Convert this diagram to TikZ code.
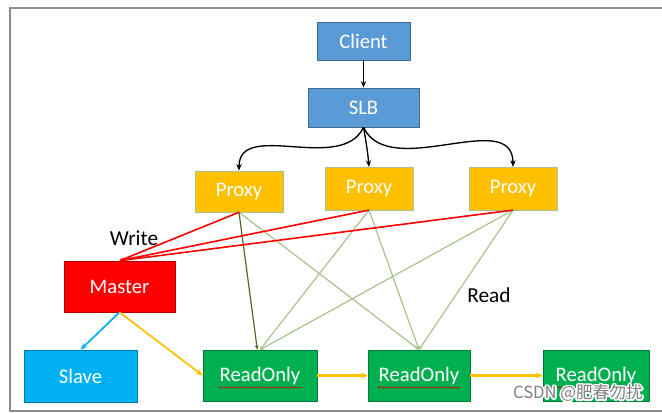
\documentclass[tikz,border=0pt]{standalone}
\usepackage{fontspec}
\setmainfont{Carlito}
\newfontfamily\cjk{Noto Sans CJK SC}
\usepackage{contour}
\contourlength{1.2pt}
\usetikzlibrary{arrows.meta,decorations.pathmorphing}
\definecolor{boxblue}{HTML}{5B9BD5}
\definecolor{proxyyel}{HTML}{FFC000}
\definecolor{slaveblue}{HTML}{00B0F0}
\definecolor{rogreen}{HTML}{00B050}
\definecolor{readgreen}{HTML}{A9C38C}
\definecolor{readdark}{HTML}{4E6B2E}
\tikzset{
	box/.style={
			draw=#1!70!black, fill=#1, text=white, inner sep=0pt,
			font=\fontsize{15.5pt}{17pt}\selectfont, line width=0.4pt
		},
	tip/.style={-{Stealth[length=5pt,width=4pt]}},
	writeline/.style={red, line width=1.2pt, -{Stealth[length=2.5pt,width=2.5pt]}},
	readline/.style={readgreen, line width=0.9pt, -{Stealth[length=3pt,width=3pt]}},
	feed/.style={proxyyel, line width=1.6pt, -{Stealth[length=5pt,width=4.5pt]}},
	spell/.style={red!80!black, line width=0.4pt, decorate,
			decoration={snake, amplitude=0.5pt, segment length=2.2pt}}
}

\begin{document}
\begin{tikzpicture}[x=0.75pt,y=-0.75pt]
	\useasboundingbox (0,0) rectangle (662,413);
	\draw[black!45, line width=1pt] (10,8) rectangle (700,411);

	\node[box=boxblue, minimum width=69.75pt, minimum height=28.5pt] (client) at (363.5,41) {Client};
	\node[box=boxblue, minimum width=83.25pt, minimum height=29.25pt] (slb) at (363.5,107.5) {SLB};
	\node[box=proxyyel, draw=readgreen, minimum width=66pt, minimum height=30.75pt] (p1) at (239,191.5) {Proxy};
	\node[box=proxyyel, draw=readgreen, minimum width=66pt, minimum height=32pt] (p2) at (369,188.5) {Proxy};
	\node[box=proxyyel, draw=readgreen, minimum width=66pt, minimum height=32pt] (p3) at (513,188.5) {Proxy};
	\node[box=red, minimum width=83.25pt, minimum height=38.25pt] (master) at (119.5,286.5) {Master};
	\node[box=slaveblue, minimum width=84.75pt, minimum height=39pt] (slave) at (80.5,376) {Slave};
	\node[box=rogreen, minimum width=85.5pt, minimum height=38.25pt] (ro1) at (260,375.5) {ReadOnly};
	\node[box=rogreen, minimum width=76.5pt, minimum height=38.25pt] (ro2) at (419,375.5) {ReadOnly};
	\node[box=rogreen, minimum width=79.5pt, minimum height=38.25pt] (ro3) at (596,375.5) {ReadOnly};

	\node[font=\fontsize{16pt}{18pt}\selectfont] (write) at (134,238) {Write};
	\node[font=\fontsize{16pt}{18pt}\selectfont] (read) at (489,295) {Read};

	% spell check marks
	\foreach \n in {ro1,ro2,ro3}
	\draw[spell] ([xshift=-31pt,yshift=-9pt]\n.center) -- ([xshift=31pt,yshift=-9pt]\n.center);

	\draw[tip, line width=1pt] (client) -- (slb);
	\draw[tip, line width=1pt] (slb.south) to[out=-115,in=90] (p1.north);
	\draw[tip, line width=1pt] (slb.south) to[out=-80,in=95] (p2.north);
	\draw[tip, line width=1pt] (slb.south) to[out=-65,in=90] (p3.north);

	\foreach \p in {p2,p3}
	\foreach \r in {ro1,ro2}
	\draw[readline] (\p.south) -- (\r.north);
	\draw[readline] (p1.south) -- (ro2.north);
	\draw[readdark, line width=0.9pt, -{Stealth[length=3.5pt,width=3pt]}] (p1.south) -- ([xshift=-2pt]ro1.north);

	\foreach \p in {p1,p2,p3}
	\draw[writeline] (\p.south) -- (master.north);

	\draw[slaveblue, line width=1.3pt, tip] (master.south) -- (slave.north);
	\draw[feed, line width=1.3pt] (master.south) -- (ro1.west);
	\draw[feed] (ro1) -- (ro2);
	\draw[feed] (ro2) -- (ro3);

	\node[text=black!50, font=\cjk\fontsize{12.5pt}{14pt}\selectfont] (mark) at (578,394) {\contour{white}{CSDN @肥春勿扰}};
\end{tikzpicture}
\end{document}
